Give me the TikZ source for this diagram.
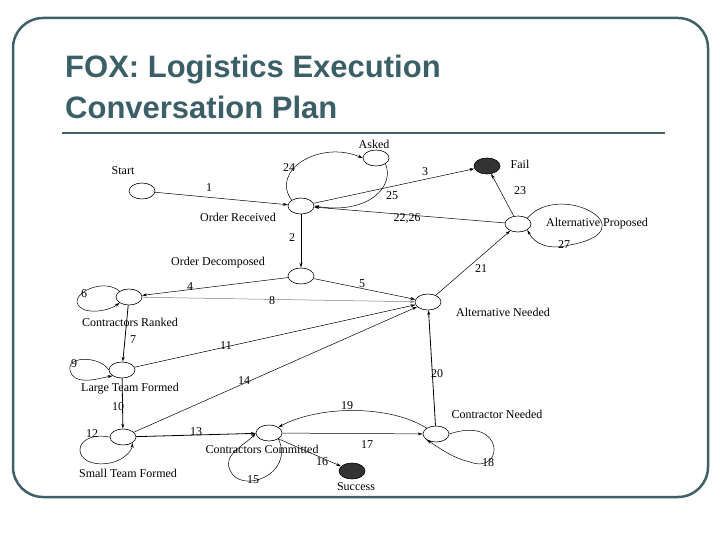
\documentclass[tikz,border=0pt]{standalone}
\usepackage{fontspec}
\setmainfont{Liberation Serif}
\newfontfamily\titlefont{Liberation Sans}
\usetikzlibrary{shapes.geometric,arrows.meta}
\definecolor{frame}{HTML}{3F6066}
\definecolor{ttl}{HTML}{3A5F66}
\begin{document}
\begin{tikzpicture}[x=1pt,y=-1pt,
 st/.style={draw,ellipse,minimum width=26pt,minimum height=16pt,inner sep=0pt,line width=0.6pt},
 fin/.style={st,fill=black!80},
 lb/.style={font=\fontsize{12}{13}\selectfont,inner sep=1pt},
 e/.style={-{Stealth[length=5pt,width=3pt]},line width=0.5pt},
 every node/.append style={lb}]
\useasboundingbox (0,0) rectangle (720,540);
\draw[frame,line width=2.5pt,rounded corners=30pt] (13,18) rectangle (708,497);
\node[anchor=west,font=\titlefont\bfseries\fontsize{31}{34}\selectfont,text=ttl] at (64,70) {FOX: Logistics Execution};
\node[anchor=west,font=\titlefont\bfseries\fontsize{31}{34}\selectfont,text=ttl] at (64,107) {Conversation Plan};
\draw[frame,line width=2.5pt] (62,133) -- (665,133);

\node[st] (s) at (142,191) {}; \node at (123,171) {Start};
\node[st] (or) at (301,206) {}; \node at (238,217) {Order Received};
\node[st] (as) at (376,158) {}; \node at (374,144) {Asked};
\node[fin] (f) at (487,166) {}; \node at (520,164) {Fail};
\node[st] (ap) at (518,224) {}; \node at (597,224) {Alternative Proposed};
\node[st] (od) at (301,276) {}; \node at (218,263) {Order Decomposed};
\node[st] (an) at (428,302) {}; \node at (503,312) {Alternative Needed};
\node[st] (cr) at (129,297) {}; \node at (130,322) {Contractors Ranked};
\node[st] (lt) at (122,370) {}; \node at (130,389) {Large Team Formed};
\node[st] (stf) at (123,437) {}; \node at (128,473) {Small Team Formed};
\node[st] (cc) at (269,433) {}; \node at (262,449) {Contractors Committed};
\node[st] (cn) at (436,434) {}; \node at (497,414) {Contractor Needed};
\node[fin] (su) at (352,471) {}; \node at (356,487) {Success};

\draw[e] (s) -- (or); \node at (209,188){1};
\draw[e] (or.north west) .. controls (270,170) and (320,140) .. (as.west);
\node at (289,168){24};
\draw[e] (as.south east) .. controls (395,185) and (370,215) .. (or.east);
\node at (392,196){25};
\draw[e] (or) -- (f); \node at (425,172){3};
\draw[e] (ap) -- (or); \node at (407,218){22,26};
\draw[e] (ap) -- (f); \node at (520,191){23};
\draw[e] (ap.north east) .. controls (560,180) and (650,230) .. (570,245) .. controls (550,250) and (535,245) .. (ap.south east);
\node at (564,245){27};
\draw[e,line width=0.8pt] (or) -- (od); \node at (292,238){2};
\draw[e] (od) -- (cr); \node at (190,287){4};
\draw[e] (od) -- (an); \node at (362,284){5};
\draw[e,gray] (cr) -- (an); \node at (272,301){8};
\draw[e] (cr.north west) .. controls (100,275) and (60,300) .. (85,310) .. controls (95,313) and (110,310) .. (cr.south west);
\node at (84,294){6};
\draw[e,line width=0.8pt] (cr) -- (lt); \node at (133,340){7};
\draw[e] (lt) -- (an); \node at (226,346){11};
\draw[e] (lt.west) .. controls (100,355) and (60,355) .. (72,375) .. controls (80,385) and (100,378) .. (lt.south west);
\node at (74,364){9};
\draw[e,line width=0.8pt] (lt) -- (stf); \node at (118,407){10};
\draw[e] (stf) -- (an); \node at (244,381){14};
\draw[e] (stf.west) .. controls (70,430) and (70,470) .. (110,463) .. controls (125,460) and (132,450) .. (stf.south east);
\node at (92,434){12};
\draw[e,line width=0.8pt] (stf) -- (cc); \node at (196,432){13};
\draw[e] (cc.south east) .. controls (295,475) and (240,495) .. (230,470) .. controls (222,455) and (245,445) .. (cc.west);
\node at (253,480){15};
\draw[e] (cc.south east) -- (su); \node at (322,462){16};
\draw[e] (cc) -- (cn); \node at (367,445){17};
\draw[e] (cn.north west) .. controls (390,405) and (320,405) .. (cc.north east);
\node at (347,406){19};
\draw[e] (cn.east) .. controls (505,415) and (505,475) .. (470,462) .. controls (450,457) and (440,448) .. (cn.south west);
\node at (488,463){18};
\draw[e,line width=0.8pt] (cn) -- (an); \node at (437,374){20};
\draw[e] (an) -- (ap); \node at (481,269){21};
\end{tikzpicture}
\end{document}
